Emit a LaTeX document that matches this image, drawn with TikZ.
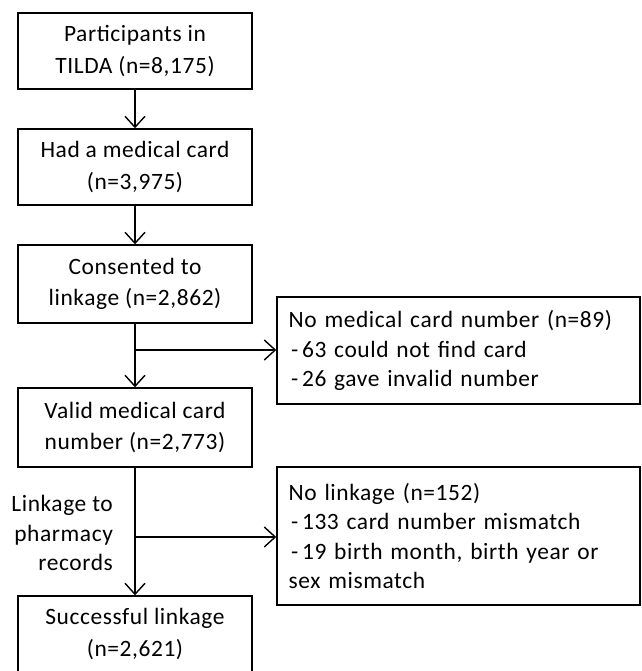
\documentclass[tikz,border=0pt]{standalone}
\usepackage{fontspec}
\setmainfont{Carlito}
\newfontfamily\spacedfont[LetterSpace=2.5]{Carlito}
\usetikzlibrary{arrows.meta,positioning}

\begin{document}
\begin{tikzpicture}[
			x=0.03cm, y=-0.03cm,
			box/.style={draw, line width=1.2pt, minimum width=7.02cm, minimum height=2.28cm, align=center, font=\spacedfont\fontsize{20}{27}\selectfont},
			sidebox/.style={draw, line width=1.2pt, minimum width=10.89cm, text width=10.19cm, inner xsep=0.35cm, align=left, font=\spacedfont\fontsize{20}{25}\selectfont},
			arrow/.style={-{Straight Barb[length=0.33cm, width=0.6cm]}, line width=1.2pt}
		]

		\useasboundingbox (0,0) rectangle (641,671);

		\node[box] (tilda) at (135,51) {Participants in\\TILDA (n=8,175)};
		\node[box] (medcard) at (135,167) {Had a medical card\\(n=3,975)};
		\node[box, minimum height=2.34cm] (consent) at (135,284) {Consented to\\linkage (n=2,862)};
		\node[box, minimum height=2.37cm] (valid) at (135,427.5) {Valid medical card\\number (n=2,773)};
		\node[box] (success) at (135,634) {Successful linkage\\(n=2,621)};

		\node[sidebox, minimum height=3.21cm] (nocard) at (458.5,350.5) {No medical card number (n=89)\\\hspace*{2pt}-\,63 could not find card\\\hspace*{2pt}-\,26 gave invalid number};
		\node[sidebox, minimum height=4.14cm] (nolink) at (458.5,536) {No linkage (n=152)\\\hspace*{2pt}-\,133 card number mismatch\\\hspace*{2pt}-\,19 birth month, birth year or\\sex mismatch};

		\node[anchor=east, align=right, font=\spacedfont\fontsize{20}{25.5}\selectfont] (linklabel) at (117,533) {Linkage to\\pharmacy\\records};

		\coordinate (split1) at (135,350);
		\coordinate (split2) at (135,537);

		\draw[arrow] (tilda) -- (medcard);
		\draw[arrow] (medcard) -- (consent);
		\draw[arrow] (consent) -- (valid);
		\draw[arrow] (valid) -- (success);
		\draw[arrow] (split1) -- (split1 -| nocard.west);
		\draw[arrow] (split2) -- (split2 -| nolink.west);

	\end{tikzpicture}
\end{document}
